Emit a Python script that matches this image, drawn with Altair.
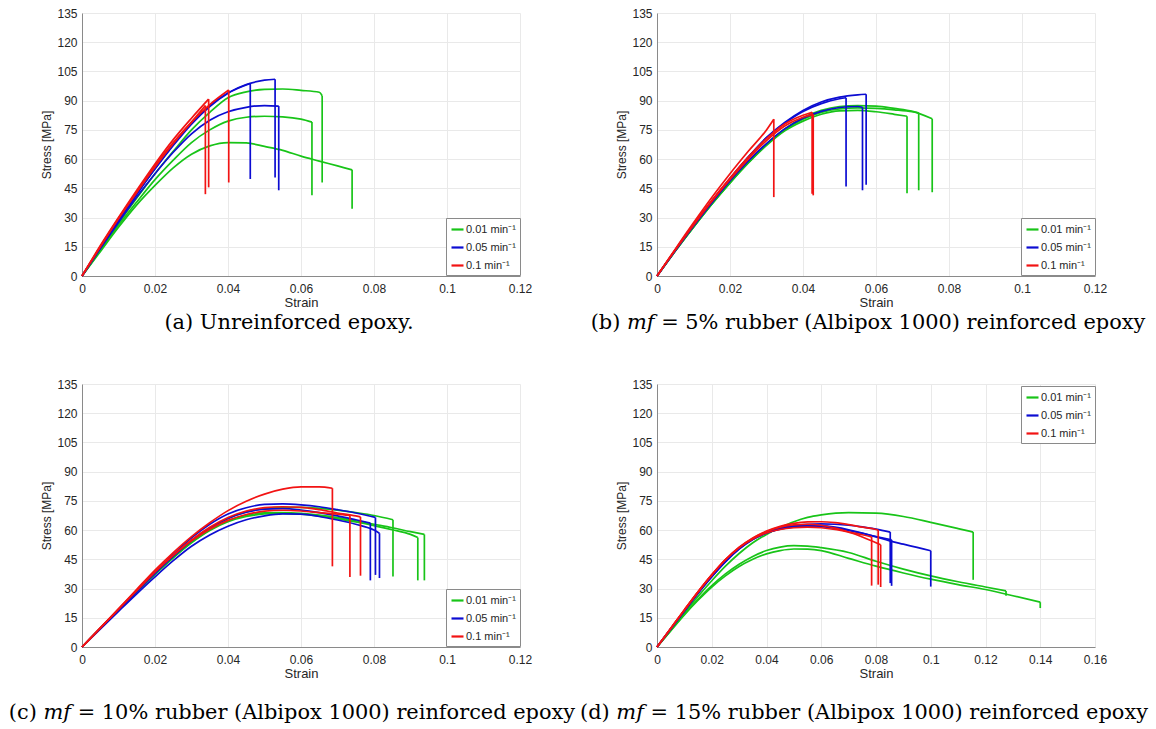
import altair as alt
import pandas as pd

RATES = ["0.01 min⁻¹", "0.05 min⁻¹", "0.1 min⁻¹"]
COLORS = ["#18c418", "#0c0cd2", "#f21313"]
G, B, R = RATES

CAPTIONS = [
    "(a) Unreinforced epoxy.",
    "(b) 𝑚𝑓 = 5% rubber (Albipox 1000) reinforced epoxy",
    "(c) 𝑚𝑓 = 10% rubber (Albipox 1000) reinforced epoxy",
    "(d) 𝑚𝑓 = 15% rubber (Albipox 1000) reinforced epoxy",
]
X_MAX = [0.12, 0.12, 0.12, 0.16]
X_TICKS_12 = [0, 0.02, 0.04, 0.06, 0.08, 0.1, 0.12]
X_TICKS_16 = [0, 0.02, 0.04, 0.06, 0.08, 0.1, 0.12, 0.14, 0.16]
Y_TICKS = [0, 15, 30, 45, 60, 75, 90, 105, 120, 135]

S05 = [0, 0.005, 0.01, 0.015, 0.02, 0.025, 0.03, 0.035, 0.04, 0.045,
       0.05, 0.055, 0.06, 0.065, 0.07, 0.075, 0.08, 0.085, 0.09, 0.095, 0.1]

# (rate, strains, stresses, stress after failure drop)
PANEL_A = [
    (G, S05[:14] + [0.0658], [0, 13.5, 27, 40, 52.5, 64, 75, 84, 91.5, 94.5, 95.8, 96, 95.3, 94.3, 92.5], 48),
    (G, S05[:13] + [0.063], [0, 13, 26, 38, 49.5, 59.5, 68.5, 75, 79.5, 81.5, 82, 81.7, 80.5, 79], 41.4),
    (G, S05[:15] + [0.074], [0, 12.5, 25, 36.5, 46.5, 55.5, 62.5, 66.8, 68.5, 68.3, 66.5, 64.5, 61.5, 59, 56.5, 54.5], 34.5),
    (B, S05[:9] + [0.0461], [0, 14.5, 28.5, 42, 55, 67, 78, 87, 93.8, 98.8], 49.8),
    (B, S05[:11] + [0.0529], [0, 14.5, 28.5, 42, 55, 67.5, 78.5, 87.5, 94, 98.3, 100.5, 101], 50.5),
    (B, S05[:11] + [0.0539], [0, 14, 27.5, 40.5, 52.5, 63.5, 73, 80, 84.3, 86.6, 87.5, 87.2], 44),
    (R, S05[:7] + [0.0338], [0, 15, 29.5, 43, 56, 68, 79, 87.5], 42),
    (R, S05[:7] + [0.0347], [0, 15.5, 30, 44, 57.5, 70, 81, 90.8], 45.5),
    (R, S05[:8] + [0.0402], [0, 15, 29.5, 43, 56.5, 68.5, 79, 88, 95.5], 48),
]

PANEL_B = [
    (G, S05[:14] + [0.0685], [0, 12.8, 25, 36.8, 47.8, 58, 67, 74.5, 79.5, 83, 84.8, 85, 84.3, 83, 82], 42.5),
    (G, S05[:15] + [0.0717], [0, 12.8, 25, 36.8, 47.8, 58, 67.3, 75, 80.5, 84, 85.8, 86.3, 86, 85.3, 84.3, 83.7], 44),
    (G, S05[:15] + [0.0754], [0, 12.8, 25.2, 37, 48, 58.3, 67.7, 75.5, 81.2, 85, 87, 87.5, 87.2, 86, 84.5, 80.7], 43),
    (B, S05[:11] + [0.0518], [0, 13.2, 26, 38.3, 50, 61, 71, 78.5, 84.5, 88.5, 91, 91.5], 46),
    (B, S05[:12] + [0.0563], [0, 13, 25.5, 37.5, 48.8, 59, 68, 75.5, 81, 84.5, 86.5, 87, 86.6], 44),
    (B, S05[:12] + [0.0573], [0, 13.2, 26, 38.3, 50, 61, 71, 78.8, 85, 89.3, 91.8, 93, 93.3], 46.8),
    (R, S05[:7] + [0.032], [0, 13.8, 27.3, 40.3, 52.5, 64, 75, 80.5], 40.5),
    (R, S05[:9] + [0.0425], [0, 13.5, 26.5, 38.8, 50.3, 61, 70.5, 78, 82.5, 84], 42.2),
    (R, S05[:9] + [0.0428], [0, 13.3, 26, 38.2, 49.5, 60, 69.5, 77, 81.5, 83], 41.4),
]

PANEL_C = [
    (G, S05[:17] + [0.0852], [0, 9.5, 19, 28.5, 37.8, 46.5, 54.5, 61, 66, 69.3, 71, 71.7, 71.7, 71.2, 70.3, 69, 67.5, 65.3], 36.2),
    (G, S05[:19] + [0.092], [0, 9.5, 19, 28.3, 37.3, 45.8, 53.5, 59.8, 64.3, 67, 68.3, 68.6, 68.2, 67.2, 65.8, 64.2, 62.3, 60.2, 57.8, 56.2], 34.2),
    (G, S05[:19] + [0.0938], [0, 9.5, 19, 28.3, 37.5, 46, 53.8, 60.2, 64.8, 67.5, 68.8, 69, 68.6, 67.7, 66.4, 64.8, 63, 61.2, 59.2, 57.8], 34.2),
    (B, S05[:16] + [0.0804], [0, 9.6, 19.2, 28.8, 38.3, 47.5, 56, 63, 68.3, 71.5, 73.2, 73.5, 73, 72, 70.5, 68.8, 66.5], 37),
    (B, S05[:16] + [0.079], [0, 9.6, 19.2, 28.6, 37.8, 46.5, 54.5, 61, 66, 69.2, 70.8, 71, 70.3, 69, 67.3, 65.3, 63.6], 34.2),
    (B, S05[:17] + [0.0815], [0, 9.2, 18.3, 27.3, 36, 44.3, 51.7, 57.5, 62, 65.3, 67.3, 68.3, 68.2, 67, 65.2, 63, 60, 58.4], 35.4),
    (R, S05[:14] + [0.0686], [0, 9.8, 19.6, 29.6, 39.5, 48.5, 56.7, 63.8, 70, 74.8, 78.5, 81, 82.2, 82.2, 81.5], 41.4),
    (R, S05[:15] + [0.0734], [0, 9.7, 19.4, 29, 38.5, 47, 54.5, 60.5, 65, 68, 69.7, 70.2, 69.8, 69, 68.2, 67.5], 35.9),
    (R, S05[:16] + [0.0763], [0, 9.7, 19.4, 29, 38.5, 47.2, 55, 61.5, 66.5, 69.8, 71.5, 72, 71.7, 70.5, 68.8, 67.3, 66.8], 36.6),
]

S_D = [0, 0.005, 0.01, 0.015, 0.02, 0.025, 0.03, 0.035, 0.04, 0.045, 0.05,
       0.055, 0.06, 0.07, 0.08, 0.09, 0.1, 0.11, 0.12, 0.13, 0.14]

PANEL_D = [
    (G, S_D[:18] + [0.1155], [0, 8.8, 17.5, 26, 34, 41.5, 48, 53.5, 57.8, 61.3, 64.3, 66.5, 67.8, 69, 68.7, 67, 64, 60.8, 59], 34.5),
    (G, S_D[:19] + [0.1275], [0, 8.5, 16.8, 24.5, 31.5, 37.5, 42.5, 46.5, 49.5, 51.3, 52, 51.8, 51, 48.5, 44, 40, 36.5, 33.5, 30.8, 28.8], 26.3),
    (G, S_D[:21], [0, 8.3, 16.5, 24, 30.8, 36.5, 41.3, 45, 47.8, 49.5, 50.3, 50.2, 49.5, 45.5, 41.5, 38, 34.8, 32, 29.5, 26.3, 23], 20),
    (B, S05[:17] + [0.0852], [0, 9.3, 18.6, 27.8, 36.3, 44, 50.5, 55.5, 58.8, 61, 62.3, 63, 63.2, 63, 62.5, 61.7, 60.5, 59], 32.8),
    (B, S05[:17] + [0.0857], [0, 9.3, 18.6, 27.8, 36.3, 44, 50.5, 55.3, 58.5, 60.5, 61.6, 62, 61.8, 61, 59.8, 58.3, 56.7, 55], 31.4),
    (B, S05[:21], [0, 9.2, 18.4, 27.5, 36, 43.7, 50.2, 55.2, 58.5, 60.8, 62, 62.5, 62.3, 61.5, 60.2, 58.5, 56.5, 54.5, 52.8, 51.1, 49.4], 31),
    (R, S05[:16] + [0.0784], [0, 9.5, 19, 28.3, 37, 44.8, 51, 55.5, 58.5, 60.3, 61.2, 61.5, 61.2, 60.3, 59, 57.6, 56.5], 31.5),
    (R, S05[:17] + [0.0808], [0, 9.5, 19, 28.3, 37, 44.8, 51.2, 56, 59.5, 62, 63.5, 64.2, 64.3, 63.8, 62.8, 61.5, 60.3, 60], 32),
    (R, S05[:17] + [0.0817], [0, 9.5, 19, 28.3, 37, 44.8, 51, 55.8, 59.2, 61.5, 62.7, 63, 62.5, 61, 59, 56.5, 53.5, 52.5], 30.8),
]

PANELS = [PANEL_A, PANEL_B, PANEL_C, PANEL_D]
LEGEND_POS = [(364, 205), (364, 205), (364, 205), (364, 2)]
CAPTION_OFFSET = [3, 3, 22, 22]
CAPTION_DX = [-12, -8, -9, -12]

FONT = "Liberation Sans"
GRID = "#e9e9e9"
AXIS = "#8a8a8a"
TXT = "#262626"

color_scale = alt.Scale(domain=RATES, range=COLORS)


def panel(idx):
    rows, drops = [], []
    for cid, (rate, xs, ys, drop) in enumerate(PANELS[idx]):
        for seq, (x, y) in enumerate(zip(xs, ys)):
            rows.append({"cid": cid, "rate": rate, "seq": seq, "strain": x, "stress": y})
        drops.append({"cid": cid, "rate": rate, "strain": xs[-1], "stress": ys[-1], "drop": drop})
    df = pd.DataFrame(rows)
    dd = pd.DataFrame(drops)
    xmax = X_MAX[idx]
    xvals = X_TICKS_16 if xmax > 0.13 else X_TICKS_12
    lx, ly = LEGEND_POS[idx]
    xenc = alt.X("strain:Q", scale=alt.Scale(domain=[0, xmax], nice=False),
                 axis=alt.Axis(values=xvals, tickCount=30, format="~g", title="Strain",
                               labelFlush=False, labelOverlap=False, ticks=False,
                               labelPadding=7, titlePadding=2,
                               labelFont=FONT, labelFontSize=12, labelColor=TXT,
                               titleFont=FONT, titleFontSize=13, titleFontWeight="normal",
                               titleColor=TXT, grid=True, gridColor=GRID, domainColor=AXIS))
    yenc = alt.Y("stress:Q", scale=alt.Scale(domain=[0, 135], nice=False),
                 axis=alt.Axis(values=Y_TICKS, tickCount=30, title="Stress [MPa]", ticks=False,
                               labelOverlap=False, labelPadding=5, titlePadding=3,
                               labelFont=FONT, labelFontSize=12, labelColor=TXT,
                               titleFont=FONT, titleFontSize=12, titleFontWeight="normal",
                               titleColor=TXT, grid=True, gridColor=GRID, domainColor=AXIS))
    cenc = alt.Color("rate:N", scale=color_scale,
                     legend=alt.Legend(title=None, orient="none", legendX=lx, legendY=ly,
                                       symbolType="stroke", symbolStrokeWidth=2.2,
                                       symbolSize=144, labelFont=FONT, labelFontSize=11,
                                       labelColor=TXT, strokeColor="#8a8a8a", fillColor="white",
                                       padding=4, rowPadding=5, labelOffset=1))
    lines = alt.Chart(df).mark_line(strokeWidth=1.7, interpolate="monotone").encode(
        x=xenc, y=yenc, color=cenc, detail="cid:N", order="seq:Q")
    rules = alt.Chart(dd).mark_rule(strokeWidth=1.7).encode(
        x="strain:Q", y="stress:Q", y2="drop:Q", color=alt.Color("rate:N", scale=color_scale, legend=None))
    return alt.layer(lines, rules).properties(
        width=438, height=263,
        title=alt.TitleParams(text=CAPTIONS[idx], orient="bottom", anchor="middle",
                              font="DejaVu Serif", fontSize=20.9, fontWeight="normal",
                              color="black", offset=CAPTION_OFFSET[idx], dx=CAPTION_DX[idx]))


chart = alt.concat(*[panel(i) for i in range(4)], columns=2,
                   spacing={"row": 108, "column": 137}, bounds="flush")
chart = chart.resolve_scale(color="independent").resolve_legend(color="independent")
chart = chart.properties(padding={"left": 8, "top": 6, "right": 0, "bottom": 5},
                         background="white").configure_view(stroke="transparent")

chart.save("out.html", embed_options={"renderer": "svg", "actions": False})
